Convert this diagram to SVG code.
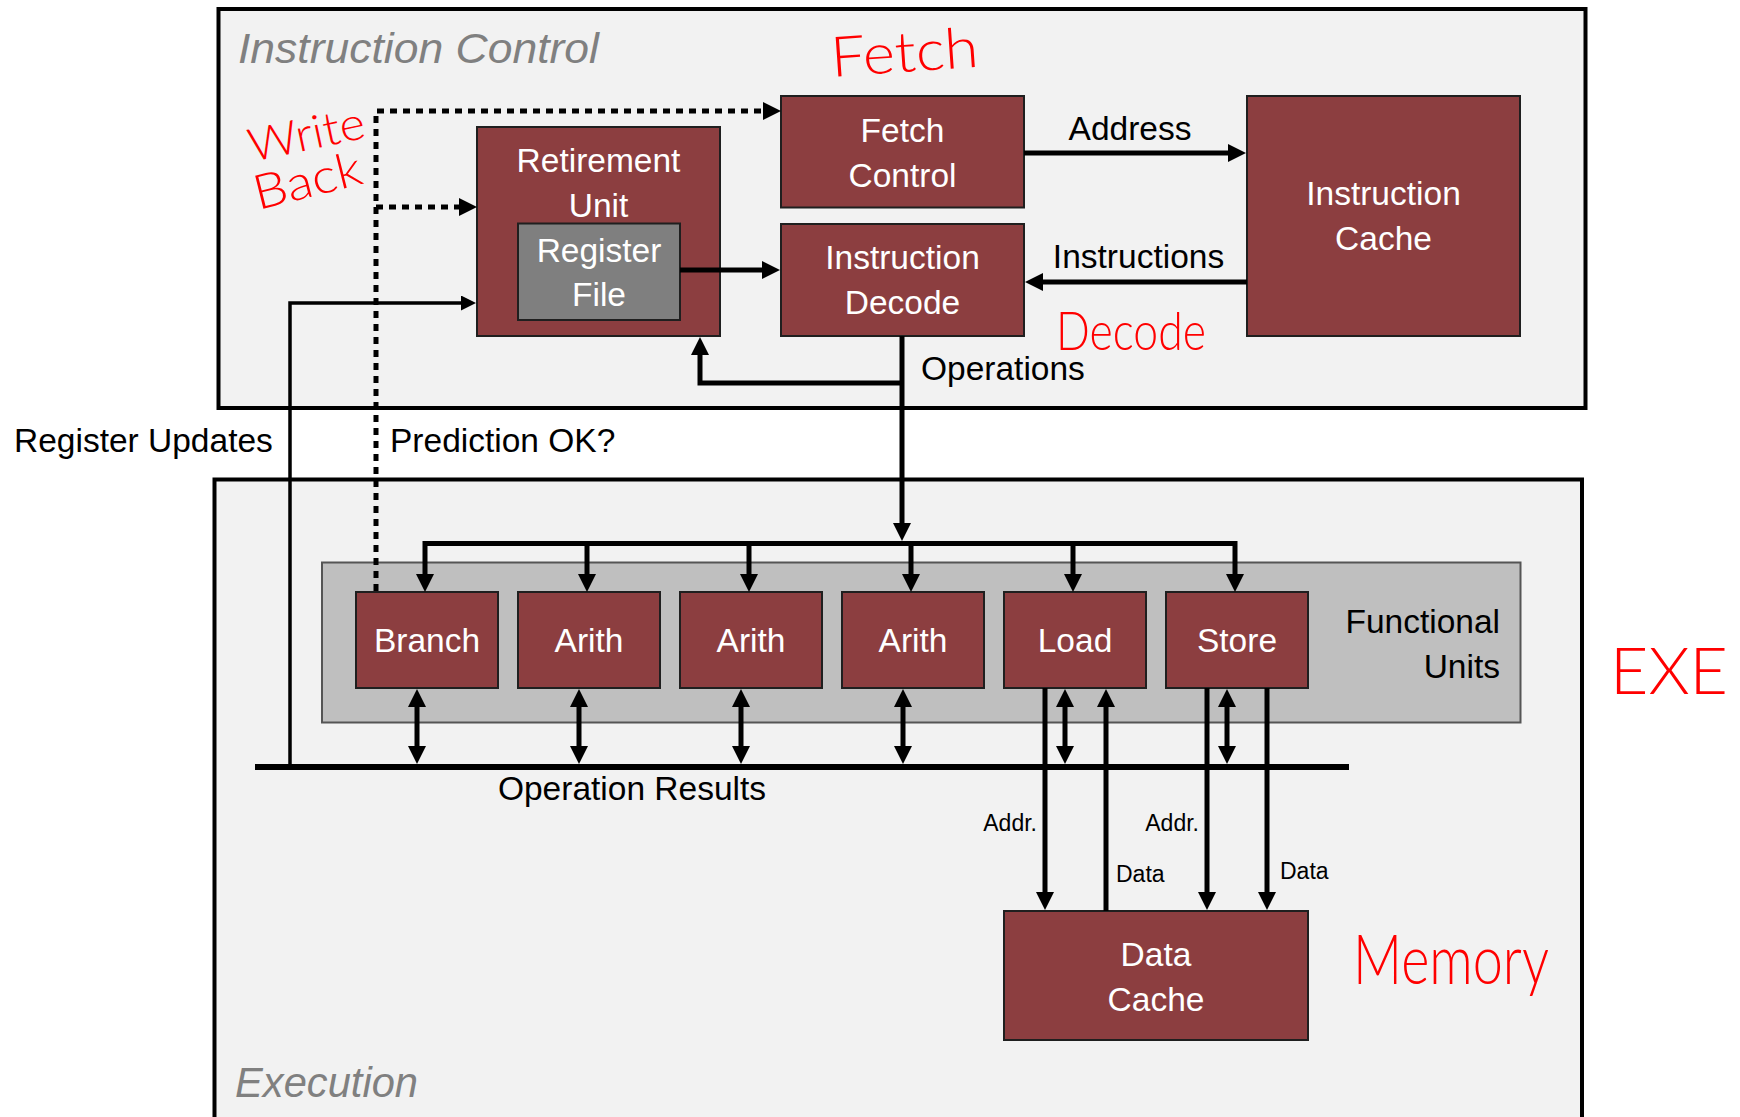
<svg xmlns="http://www.w3.org/2000/svg" width="1740" height="1117" viewBox="0 0 1740 1117">
  <style>
    .panel { fill: #f2f2f2; stroke: #000; stroke-width: 4; }
    .node { fill: #8c3e40; stroke: #1f1f1f; stroke-width: 2; }
    .reg { fill: #7f7f7f; stroke: #1f1f1f; stroke-width: 2; }
    .fu { fill: #bfbfbf; stroke: #555; stroke-width: 2; }
    .t { font-family: "Liberation Sans", Arial, sans-serif; font-size: 33.5px; }
    .w { fill: #fff; text-anchor: middle; }
    .k { fill: #000; }
    .mid { text-anchor: middle; }
    .end { text-anchor: end; }
    .small { font-size: 23px; }
    .title { font-family: "Liberation Sans", Arial, sans-serif; font-style: italic; fill: #808080; font-size: 43px; }
    .hand { font-family: Lato, "Liberation Sans", sans-serif; font-weight: 300; fill: #ff0000; }
    .line { fill: none; stroke: #000; stroke-width: 5; }
    .thin { fill: none; stroke: #000; stroke-width: 3.5; }
    .dot { fill: none; stroke: #000; stroke-width: 5; stroke-dasharray: 7 6; }
  </style>
  <defs>
    <marker id="ah" viewBox="0 0 18 18" refX="4" refY="9" markerWidth="18" markerHeight="18" markerUnits="userSpaceOnUse" orient="auto-start-reverse">
      <path d="M0,0 L18,9 L0,18 Z" fill="#000"/>
    </marker>
    <marker id="ahs" viewBox="0 0 15 15" refX="3" refY="7.5" markerWidth="15" markerHeight="15" markerUnits="userSpaceOnUse" orient="auto-start-reverse">
      <path d="M0,0 L15,7.5 L0,15 Z" fill="#000"/>
    </marker>
  </defs>

  <rect width="1740" height="1117" fill="#fff"/>

  <!-- pipeline sections -->
  <g id="instruction-control">
    <rect class="panel" x="218.5" y="9" width="1367" height="399"/>
    <text class="title" x="238" y="63" textLength="361" lengthAdjust="spacingAndGlyphs">Instruction Control</text>
  </g>
  <g id="execution">
    <rect class="panel" x="214.5" y="479.5" width="1367.5" height="700"/>
    <text class="title" x="235" y="1097" textLength="183" lengthAdjust="spacingAndGlyphs">Execution</text>
  </g>
  <g id="functional-units">
    <rect class="fu" x="322" y="562.5" width="1198.5" height="160"/>
    <text class="t k end" x="1500" y="633">Functional</text>
    <text class="t k end" x="1500" y="678">Units</text>
  </g>

  <!-- instruction control blocks -->
  <g id="retirement-unit">
    <rect class="node" x="477" y="127" width="243" height="209"/>
    <text class="t w" x="598.5" y="172">Retirement</text>
    <text class="t w" x="598.5" y="217">Unit</text>
  </g>
  <g id="register-file">
    <rect class="reg" x="518" y="223.5" width="162" height="96.5"/>
    <text class="t w" x="599" y="262">Register</text>
    <text class="t w" x="599" y="306">File</text>
  </g>
  <g id="fetch-control">
    <rect class="node" x="781" y="96" width="243" height="111.5"/>
    <text class="t w" x="902.5" y="142">Fetch</text>
    <text class="t w" x="902.5" y="187">Control</text>
  </g>
  <g id="instruction-decode">
    <rect class="node" x="781" y="224" width="243" height="112"/>
    <text class="t w" x="902.5" y="269">Instruction</text>
    <text class="t w" x="902.5" y="314">Decode</text>
  </g>
  <g id="instruction-cache">
    <rect class="node" x="1247" y="96" width="273" height="240"/>
    <text class="t w" x="1383.5" y="205">Instruction</text>
    <text class="t w" x="1383.5" y="250">Cache</text>
  </g>

  <!-- functional units -->
  <g id="branch">
    <rect class="node" x="356" y="592" width="142" height="96"/>
    <text class="t w" x="427" y="652">Branch</text>
  </g>
  <g id="arith-1">
    <rect class="node" x="518" y="592" width="142" height="96"/>
    <text class="t w" x="589" y="652">Arith</text>
  </g>
  <g id="arith-2">
    <rect class="node" x="680" y="592" width="142" height="96"/>
    <text class="t w" x="751" y="652">Arith</text>
  </g>
  <g id="arith-3">
    <rect class="node" x="842" y="592" width="142" height="96"/>
    <text class="t w" x="913" y="652">Arith</text>
  </g>
  <g id="load">
    <rect class="node" x="1004" y="592" width="142" height="96"/>
    <text class="t w" x="1075" y="652">Load</text>
  </g>
  <g id="store">
    <rect class="node" x="1166" y="592" width="142" height="96"/>
    <text class="t w" x="1237" y="652">Store</text>
  </g>
  <g id="data-cache">
    <rect class="node" x="1004" y="911" width="304" height="129"/>
    <text class="t w" x="1156" y="966">Data</text>
    <text class="t w" x="1156" y="1011">Cache</text>
  </g>

  <!-- connectors -->
  <g id="connectors">
    <!-- fetch / decode -->
    <line class="line" x1="1024" y1="153" x2="1232" y2="153" marker-end="url(#ah)"/>
    <line class="line" x1="1247" y1="282" x2="1039" y2="282" marker-end="url(#ah)"/>
    <line class="line" x1="680" y1="270" x2="766" y2="270" marker-end="url(#ah)"/>
    <!-- operations to functional units and retirement -->
    <line class="line" x1="902" y1="336" x2="902" y2="527" marker-end="url(#ah)"/>
    <polyline class="line" points="902,383 700,383 700,351" marker-end="url(#ah)"/>
    <polyline class="line" points="425,578 425,543.5 1235,543.5 1235,578" marker-start="url(#ah)" marker-end="url(#ah)"/>
    <line class="line" x1="587" y1="543.5" x2="587" y2="578" marker-end="url(#ah)"/>
    <line class="line" x1="749" y1="543.5" x2="749" y2="578" marker-end="url(#ah)"/>
    <line class="line" x1="911" y1="543.5" x2="911" y2="578" marker-end="url(#ah)"/>
    <line class="line" x1="1073" y1="543.5" x2="1073" y2="578" marker-end="url(#ah)"/>
    <!-- operation results bus -->
    <line x1="255" y1="767" x2="1349" y2="767" stroke="#000" stroke-width="6"/>
    <line class="line" x1="417" y1="703" x2="417" y2="750" marker-start="url(#ah)" marker-end="url(#ah)"/>
    <line class="line" x1="579" y1="703" x2="579" y2="750" marker-start="url(#ah)" marker-end="url(#ah)"/>
    <line class="line" x1="741" y1="703" x2="741" y2="750" marker-start="url(#ah)" marker-end="url(#ah)"/>
    <line class="line" x1="903" y1="703" x2="903" y2="750" marker-start="url(#ah)" marker-end="url(#ah)"/>
    <line class="line" x1="1065" y1="703" x2="1065" y2="750" marker-start="url(#ah)" marker-end="url(#ah)"/>
    <line class="line" x1="1227" y1="703" x2="1227" y2="750" marker-start="url(#ah)" marker-end="url(#ah)"/>
    <!-- memory access -->
    <line class="line" x1="1045" y1="688" x2="1045" y2="896" marker-end="url(#ah)"/>
    <line class="line" x1="1106" y1="911" x2="1106" y2="703" marker-end="url(#ah)"/>
    <line class="line" x1="1207" y1="688" x2="1207" y2="896" marker-end="url(#ah)"/>
    <line class="line" x1="1267" y1="688" x2="1267" y2="896" marker-end="url(#ah)"/>
    <!-- register updates -->
    <polyline class="thin" points="290,767 290,303 464,303" marker-end="url(#ahs)"/>
    <!-- prediction feedback -->
    <polyline class="dot" points="376,591 376,111 767,111" marker-end="url(#ah)"/>
    <line class="dot" x1="376" y1="207" x2="463" y2="207" marker-end="url(#ah)"/>
  </g>

  <!-- connector labels -->
  <g id="labels">
    <text class="t k mid" x="1130" y="140">Address</text>
    <text class="t k mid" x="1138.5" y="268">Instructions</text>
    <text class="t k" x="921" y="380">Operations</text>
    <text class="t k" x="14" y="452">Register Updates</text>
    <text class="t k" x="390" y="452">Prediction OK?</text>
    <text class="t k mid" x="632" y="800">Operation Results</text>
    <text class="t k end small" x="1037" y="831">Addr.</text>
    <text class="t k end small" x="1199" y="831">Addr.</text>
    <text class="t k small" x="1116" y="881.5">Data</text>
    <text class="t k small" x="1280" y="879">Data</text>
  </g>

  <!-- stage annotations -->
  <g id="annotations">
    <text class="hand" x="832" y="77" font-size="56" textLength="148" lengthAdjust="spacingAndGlyphs" transform="rotate(-4 832 77)">Fetch</text>
    <text class="hand" x="252" y="162" font-size="46" textLength="118" lengthAdjust="spacingAndGlyphs" transform="rotate(-12 252 162)">Write</text>
    <text class="hand" x="258" y="210" font-size="48" textLength="110" lengthAdjust="spacingAndGlyphs" transform="rotate(-14 258 210)">Back</text>
    <text class="hand" x="1056" y="350" font-size="54" textLength="150" lengthAdjust="spacingAndGlyphs">Decode</text>
    <text class="hand" x="1610" y="694" font-size="66" textLength="118" lengthAdjust="spacingAndGlyphs">EXE</text>
    <text class="hand" x="1353" y="984" font-size="68" textLength="196" lengthAdjust="spacingAndGlyphs">Memory</text>
  </g>
</svg>
